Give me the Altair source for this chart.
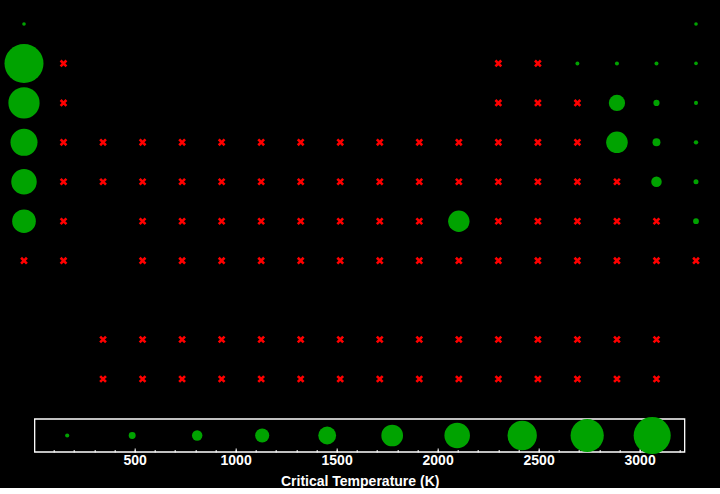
import altair as alt
import pandas as pd

# ---- data -------------------------------------------------------------
symbols = [
    "H", "He",
    "Li", "Be", "B", "C", "N", "O", "F", "Ne",
    "Na", "Mg", "Al", "Si", "P", "S", "Cl", "Ar",
    "K", "Ca", "Sc", "Ti", "V", "Cr", "Mn", "Fe", "Co", "Ni", "Cu", "Zn", "Ga", "Ge", "As", "Se", "Br", "Kr",
    "Rb", "Sr", "Y", "Zr", "Nb", "Mo", "Tc", "Ru", "Rh", "Pd", "Ag", "Cd", "In", "Sn", "Sb", "Te", "I", "Xe",
    "Cs", "Ba", "Hf", "Ta", "W", "Re", "Os", "Ir", "Pt", "Au", "Hg", "Tl", "Pb", "Bi", "Po", "At", "Rn",
    "Fr", "Ra", "Rf", "Db", "Sg", "Bh", "Hs", "Mt", "Ds", "Rg", "Cn", "Nh", "Fl", "Mc", "Lv", "Ts", "Og",
    "La", "Ce", "Pr", "Nd", "Pm", "Sm", "Eu", "Gd", "Tb", "Dy", "Ho", "Er", "Tm", "Yb", "Lu",
    "Ac", "Th", "Pa", "U", "Np", "Pu", "Am", "Cm", "Bk", "Cf", "Es", "Fm", "Md", "No", "Lr",
]
groups = (
    [1, 18]
    + [1, 2, 13, 14, 15, 16, 17, 18]
    + [1, 2, 13, 14, 15, 16, 17, 18]
    + list(range(1, 19))
    + list(range(1, 19))
    + [1, 2] + list(range(4, 19))
    + [1, 2] + list(range(4, 19))
    + list(range(3, 18))
    + list(range(3, 18))
)
rows = [1] * 2 + [2] * 8 + [3] * 8 + [4] * 18 + [5] * 18 + [6] * 17 + [7] * 17 + [9] * 15 + [10] * 15

critical_temps = {
    "H": 33.2, "He": 5.2, "Li": 3223, "Na": 2573, "K": 2223, "Rb": 2093, "Cs": 1938,
    "N": 126.2, "O": 154.6, "F": 144.1, "Ne": 44.4,
    "S": 1314, "Cl": 416.9, "Ar": 150.9,
    "Se": 1766, "Br": 588, "Kr": 209.4,
    "I": 819, "Xe": 289.7,
    "Hg": 1750, "Rn": 377,
}

legend_values = [166.1, 487.9, 809.7, 1131.5, 1453.3, 1775.1, 2096.8, 2418.6, 2740.4, 3062.2]
legend_range = [5.2, 3223]
major_ticks = [500, 1000, 1500, 2000, 2500, 3000]
minor_ticks = list(range(100, 3300, 100))

GREEN = "#00a300"
RED = "#ff0000"
FONT = "Liberation Sans"

df = pd.DataFrame({"symbol": symbols, "group": groups, "row": rows})
df["tc"] = df["symbol"].map(critical_temps)
known = df[df["tc"].notna()]
unknown = df[df["tc"].isna()]

# ---- main periodic grid ----------------------------------------------
x_scale = alt.Scale(domain=[0.393, 18.607], nice=False, zero=False)
y_scale = alt.Scale(domain=[0.3915, 10.533], reverse=True, nice=False, zero=False)

circles = alt.Chart(known).mark_circle(color=GREEN, opacity=1).encode(
    x=alt.X("group:Q", scale=x_scale, axis=None),
    y=alt.Y("row:Q", scale=y_scale, axis=None),
    size=alt.Size("tc:Q", scale=alt.Scale(type="pow", exponent=2, domain=[0, 3223], range=[13, 1521]), legend=None),
)
crosses = alt.Chart(unknown).mark_point(
    shape="M-1,-1L1,1M-1,1L1,-1", color=RED, strokeWidth=2.6, size=34, opacity=1, filled=False
).encode(
    x=alt.X("group:Q", scale=x_scale, axis=None),
    y=alt.Y("row:Q", scale=y_scale, axis=None),
)
main = alt.layer(circles, crosses).properties(width=720, height=400)

# ---- size legend -----------------------------------------------------
leg_scale = alt.Scale(domain=legend_range, nice=False, zero=False)
leg_yscale = alt.Scale(domain=[0, 1], nice=False, zero=False)

leg_box = alt.Chart(pd.DataFrame({"lo": [legend_range[0]], "hi": [legend_range[1]]})).mark_rect(
    filled=False, stroke="white", strokeWidth=1.3, fillOpacity=0
).encode(
    x=alt.X("lo:Q", scale=leg_scale, axis=None),
    x2="hi:Q",
    y=alt.YDatum(0, scale=leg_yscale, axis=None),
    y2=alt.Y2Datum(1),
)
leg_circles = alt.Chart(pd.DataFrame({"tc": legend_values})).mark_circle(color=GREEN, opacity=1).encode(
    x=alt.X(
        "tc:Q",
        scale=leg_scale,
        axis=alt.Axis(
            values=major_ticks, format="d", orient="bottom", offset=-4, tickSize=4, tickColor="white",
            tickWidth=1, domain=False, grid=False, labelPadding=1, titlePadding=7,
            title="Critical Temperature (K)",
        ),
    ),
    y=alt.YDatum(0.5, scale=leg_yscale, axis=None),
    size=alt.Size("tc:Q", scale=alt.Scale(type="pow", exponent=2, domain=[0, 3223], range=[6, 1037]), legend=None),
)
leg_minor = alt.Chart(pd.DataFrame({"t": minor_ticks})).mark_point(opacity=0).encode(
    x=alt.X(
        "t:Q",
        scale=leg_scale,
        axis=alt.Axis(
            values=minor_ticks, orient="bottom", offset=-2.5, tickSize=2.5, tickColor="white",
            tickWidth=1, domain=False, grid=False, labels=False, title=None,
        ),
    ),
    y=alt.YDatum(0.5, scale=leg_yscale, axis=None),
)
legend = (
    alt.layer(leg_box, leg_circles, leg_minor)
    .resolve_axis(x="independent")
    .properties(width=650, height=33)
)

chart = (
    alt.vconcat(main, legend, spacing=16, center=True)
    .properties(background="black", padding=0)
    .configure_view(strokeWidth=0)
    .configure_axis(
        labelFont=FONT, labelFontSize=14, labelFontWeight="bold", labelColor="white",
        titleFont=FONT, titleFontSize=14, titleFontWeight="bold", titleColor="white",
    )
)

chart.save("out.html", embed_options={"renderer": "svg", "actions": False})
